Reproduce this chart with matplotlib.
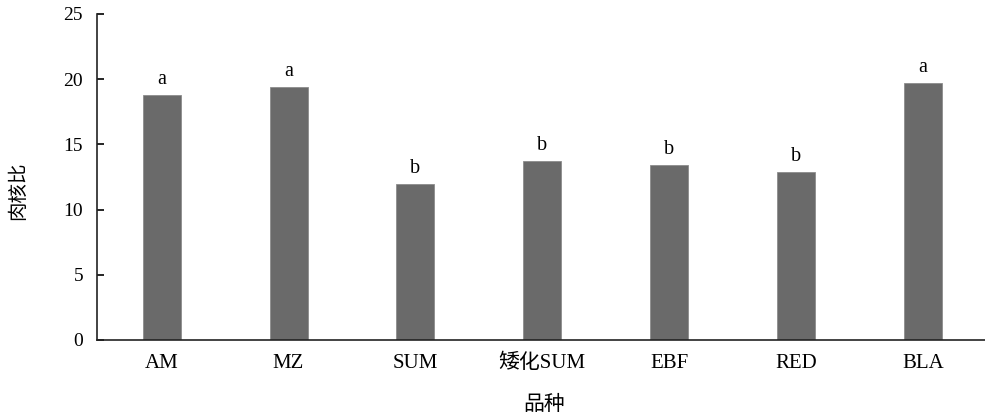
import matplotlib
matplotlib.use("Agg")
import matplotlib.pyplot as plt
import numpy as np

varieties = ["AM", "MZ", "SUM", "矮化SUM", "EBF", "RED", "BLA"]
pulp_stone_ratio = [18.8, 19.4, 12.0, 13.7, 13.4, 12.9, 19.7]
sig_letters = ["a", "a", "b", "b", "b", "b", "a"]
y_ticks = [0, 5, 10, 15, 20, 25]

serif = ["Liberation Serif", "Noto Sans CJK SC"]
cjk = ["Noto Sans CJK SC", "DejaVu Sans"]

fig = plt.figure(figsize=(9.85, 4.17), dpi=100)
ax = fig.add_axes([97 / 985, 1 - 340 / 417, 1 - 97 / 985, (340 - 14) / 417])

x = np.arange(len(varieties))
ax.bar(x, pulp_stone_ratio, width=0.3, color="#6a6a6a",
       edgecolor="#8c8c8c", linewidth=0.6, zorder=2)

for xi, v, s in zip(x, pulp_stone_ratio, sig_letters):
    ax.text(xi, v + 0.45, s, ha="center", va="bottom",
            fontsize=14.5, family=serif)

ax.set_xlim(-0.51, 6.49)
ax.set_ylim(0, 25)
ax.set_yticks(y_ticks)
ax.set_xticks(x)
ax.set_xticklabels(varieties, family=serif, fontsize=15)
for lab in ax.get_yticklabels():
    lab.set_family(serif)
    lab.set_fontsize(14)

ax.tick_params(axis="y", direction="in", length=5, width=1.2, pad=10)
ax.tick_params(axis="x", length=0, pad=10)

for side in ("top", "right"):
    ax.spines[side].set_visible(False)
for side in ("left", "bottom"):
    ax.spines[side].set_linewidth(1.2)
    ax.spines[side].set_color("#222222")

ylab = ax.set_ylabel("肉核比", family=cjk, fontsize=14)
ylab.set_va("center")
ax.yaxis.set_label_coords(-0.089, 0.457)
xlab = ax.set_xlabel("品种", family=cjk, fontsize=15)
xlab.set_va("center")
ax.xaxis.set_label_coords(0.504, -0.195)

fig.savefig("out.png", dpi=100)
